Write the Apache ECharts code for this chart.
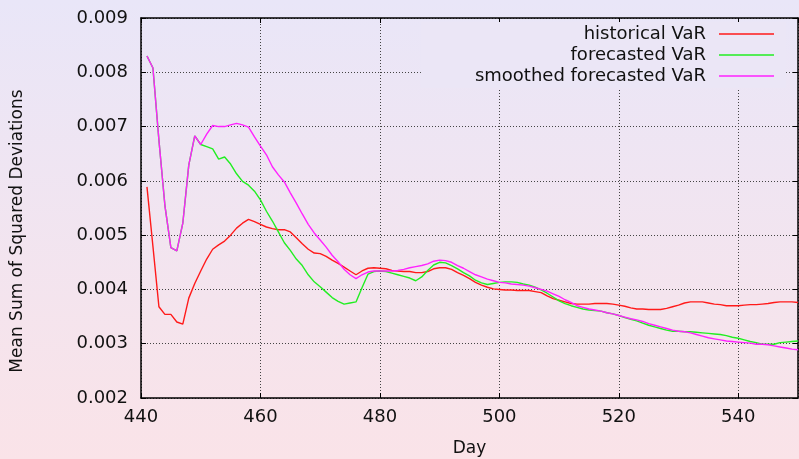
<!DOCTYPE html>
<html>
<head>
<meta charset="utf-8">
<script src="https://cdn.jsdelivr.net/npm/echarts@6/dist/echarts.min.js"></script>
<style>
  html, body { margin: 0; padding: 0; }
  #chart { width: 799px; height: 459px; }
</style>
</head>
<body>
<div id="chart"></div>
<script>
  const days = [
    441, 442, 443, 444, 445, 446, 447, 448, 449, 450,
    451, 452, 453, 454, 455, 456, 457, 458, 459, 460,
    461, 462, 463, 464, 465, 466, 467, 468, 469, 470,
    471, 472, 473, 474, 475, 476, 477, 478, 479, 480,
    481, 482, 483, 484, 485, 486, 487, 488, 489, 490,
    491, 492, 493, 494, 495, 496, 497, 498, 499, 500,
    501, 502, 503, 504, 505, 506, 507, 508, 509, 510,
    511, 512, 513, 514, 515, 516, 517, 518, 519, 520,
    521, 522, 523, 524, 525, 526, 527, 528, 529, 530,
    531, 532, 533, 534, 535, 536, 537, 538, 539, 540,
    541, 542, 543, 544, 545, 546, 547, 548, 549, 550
  ];

  const historicalVaR = [
    0.00589, 0.00479, 0.00368, 0.00354, 0.00354, 0.00340, 0.00336, 0.00384, 0.00411, 0.00434,
    0.00456, 0.00474, 0.00482, 0.00489, 0.00500, 0.00513, 0.00522, 0.00529, 0.00525, 0.00520,
    0.00515, 0.00512, 0.00510, 0.00510, 0.00506, 0.00495, 0.00484, 0.00474, 0.00467, 0.00466,
    0.00461, 0.00454, 0.00448, 0.00441, 0.00434, 0.00427, 0.00434, 0.00439, 0.00440, 0.00439,
    0.00438, 0.00435, 0.00434, 0.00433, 0.00433, 0.00431, 0.00431, 0.00433, 0.00438, 0.00440,
    0.00440, 0.00437, 0.00431, 0.00426, 0.00420, 0.00413, 0.00408, 0.00404, 0.00401, 0.00400,
    0.00399, 0.00399, 0.00398, 0.00398, 0.00398, 0.00396, 0.00394, 0.00388, 0.00383, 0.00380,
    0.00377, 0.00374, 0.00373, 0.00373, 0.00373, 0.00374, 0.00374, 0.00374, 0.00373, 0.00371,
    0.00369, 0.00366, 0.00364, 0.00364, 0.00363, 0.00363, 0.00363, 0.00365, 0.00368, 0.00371,
    0.00375, 0.00377, 0.00377, 0.00377, 0.00375, 0.00373, 0.00372, 0.00370, 0.00370, 0.00370,
    0.00371, 0.00372, 0.00372, 0.00373, 0.00374, 0.00376, 0.00377, 0.00377, 0.00377, 0.00376
  ];

  const forecastedVaR = [
    0.00830, 0.00808, 0.00675, 0.00555, 0.00477, 0.00471, 0.00522, 0.00629, 0.00683, 0.00667,
    0.00663, 0.00659, 0.00640, 0.00644, 0.00631, 0.00613, 0.00599, 0.00592, 0.00581, 0.00565,
    0.00544, 0.00526, 0.00506, 0.00486, 0.00472, 0.00456, 0.00444, 0.00427, 0.00414, 0.00405,
    0.00395, 0.00385, 0.00378, 0.00373, 0.00375, 0.00377, 0.00403, 0.00428, 0.00433, 0.00434,
    0.00433, 0.00430, 0.00427, 0.00424, 0.00421, 0.00416, 0.00423, 0.00435, 0.00445, 0.00450,
    0.00449, 0.00444, 0.00438, 0.00431, 0.00425, 0.00417, 0.00412, 0.00409, 0.00411, 0.00413,
    0.00414, 0.00414, 0.00413, 0.00410, 0.00408, 0.00404, 0.00399, 0.00393, 0.00386, 0.00379,
    0.00374, 0.00370, 0.00367, 0.00364, 0.00362, 0.00361, 0.00360, 0.00357, 0.00355, 0.00352,
    0.00348, 0.00345, 0.00342, 0.00338, 0.00334, 0.00331, 0.00328, 0.00325, 0.00323, 0.00323,
    0.00322, 0.00322, 0.00321, 0.00320, 0.00319, 0.00318, 0.00317, 0.00315, 0.00312, 0.00310,
    0.00307, 0.00304, 0.00302, 0.00299, 0.00299, 0.00299, 0.00302, 0.00303, 0.00304, 0.00305
  ];

  const smoothedVaR = [
    0.00830, 0.00808, 0.00675, 0.00555, 0.00477, 0.00471, 0.00522, 0.00629, 0.00683, 0.00667,
    0.00686, 0.00702, 0.00700, 0.00700, 0.00703, 0.00706, 0.00703, 0.00699, 0.00681, 0.00664,
    0.00648, 0.00626, 0.00611, 0.00598, 0.00578, 0.00559, 0.00539, 0.00520, 0.00504, 0.00491,
    0.00478, 0.00463, 0.00451, 0.00437, 0.00427, 0.00420, 0.00427, 0.00432, 0.00434, 0.00434,
    0.00434, 0.00434, 0.00435, 0.00437, 0.00440, 0.00442, 0.00444, 0.00447, 0.00452, 0.00454,
    0.00453, 0.00450, 0.00444, 0.00439, 0.00433, 0.00427, 0.00423, 0.00419, 0.00416, 0.00413,
    0.00412, 0.00410, 0.00409, 0.00408, 0.00406, 0.00403, 0.00400, 0.00397, 0.00392, 0.00387,
    0.00381, 0.00376, 0.00370, 0.00367, 0.00364, 0.00362, 0.00360, 0.00357, 0.00355, 0.00352,
    0.00349, 0.00346, 0.00344, 0.00341, 0.00337, 0.00334, 0.00331, 0.00328, 0.00325, 0.00323,
    0.00322, 0.00320, 0.00317, 0.00314, 0.00311, 0.00309, 0.00307, 0.00305, 0.00304, 0.00303,
    0.00302, 0.00301, 0.00299, 0.00299, 0.00298, 0.00296, 0.00294, 0.00292, 0.00290, 0.00289
  ];

  const seriesNames = ['historical VaR', 'forecasted VaR', 'smoothed forecasted VaR'];
  const seriesColors = ['#ff1a1a', '#22ee22', '#ff22ff'];

  const font = 'DejaVu Sans';
  const pair = (vals) => days.map((d, i) => [d, vals[i]]);

  const chart = echarts.init(document.getElementById('chart'));

  // gnuplot style: ticks inside, mirrored on top/right
  const xBase = {
    type: 'value',
    min: 440,
    max: 550,
    interval: 20,
    axisLine: { show: true, lineStyle: { color: '#000', width: 1.5 } },
    axisTick: { show: true, inside: true, length: 5, lineStyle: { color: '#000' } }
  };
  const yBase = {
    type: 'value',
    min: 0.002,
    max: 0.009,
    interval: 0.001,
    axisLine: { show: true, lineStyle: { color: '#000', width: 1.5 } },
    axisTick: { show: true, inside: true, length: 5, lineStyle: { color: '#000' } }
  };

  chart.setOption({
    backgroundColor: {
      type: 'linear', x: 0, y: 0, x2: 0, y2: 1,
      colorStops: [
        { offset: 0, color: '#e9e6f8' },
        { offset: 1, color: '#fae3e8' }
      ]
    },
    animation: false,
    textStyle: { fontFamily: font },
    grid: { left: 141, right: 1, top: 18, bottom: 61, outerBoundsMode: 'none' },
    legend: {
      data: seriesNames,
      orient: 'vertical',
      right: 13,
      top: 22,
      align: 'right',
      padding: [3, 12, 3, 54],
      itemGap: 3,
      itemWidth: 55,
      itemHeight: 14,
      icon: 'path://M0,0L55,0L55,1.4L0,1.4Z',
      backgroundColor: '#ebe6f6',
      textStyle: { fontFamily: font, fontSize: 18, color: '#111', padding: [0, 8, 0, 0] }
    },
    xAxis: [
      {
        ...xBase,
        position: 'bottom',
        name: 'Day',
        nameLocation: 'middle',
        nameGap: 42,
        nameTextStyle: { fontFamily: font, fontSize: 17, color: '#111' },
        axisLabel: { margin: 10, fontFamily: font, fontSize: 18, color: '#111', showMaxLabel: false },
        splitLine: { show: true, lineStyle: { color: '#444', type: [1, 2], width: 1 } }
      },
      {
        ...xBase,
        position: 'top',
        axisLabel: { show: false },
        splitLine: { show: false }
      }
    ],
    yAxis: [
      {
        ...yBase,
        position: 'left',
        axisLabel: {
          margin: 13,
          fontFamily: font,
          fontSize: 18,
          color: '#111',
          formatter: (v) => v.toFixed(3)
        },
        splitLine: { show: true, lineStyle: { color: '#444', type: [1, 2], width: 1 } }
      },
      {
        ...yBase,
        position: 'right',
        axisLabel: { show: false },
        splitLine: { show: false }
      }
    ],
    graphic: [
      {
        type: 'text',
        x: 18,
        y: 231,
        rotation: Math.PI / 2,
        style: {
          text: 'Mean Sum of Squared Deviations',
          fontFamily: font,
          fontSize: 17,
          fill: '#111',
          align: 'center',
          verticalAlign: 'middle'
        }
      }
    ],
    series: [historicalVaR, forecastedVaR, smoothedVaR].map((vals, i) => ({
      name: seriesNames[i],
      type: 'line',
      data: pair(vals),
      symbol: 'none',
      color: seriesColors[i],
      lineStyle: { color: seriesColors[i], width: 1.4 },
      z: 3 + i
    }))
  });
</script>
</body>
</html>
